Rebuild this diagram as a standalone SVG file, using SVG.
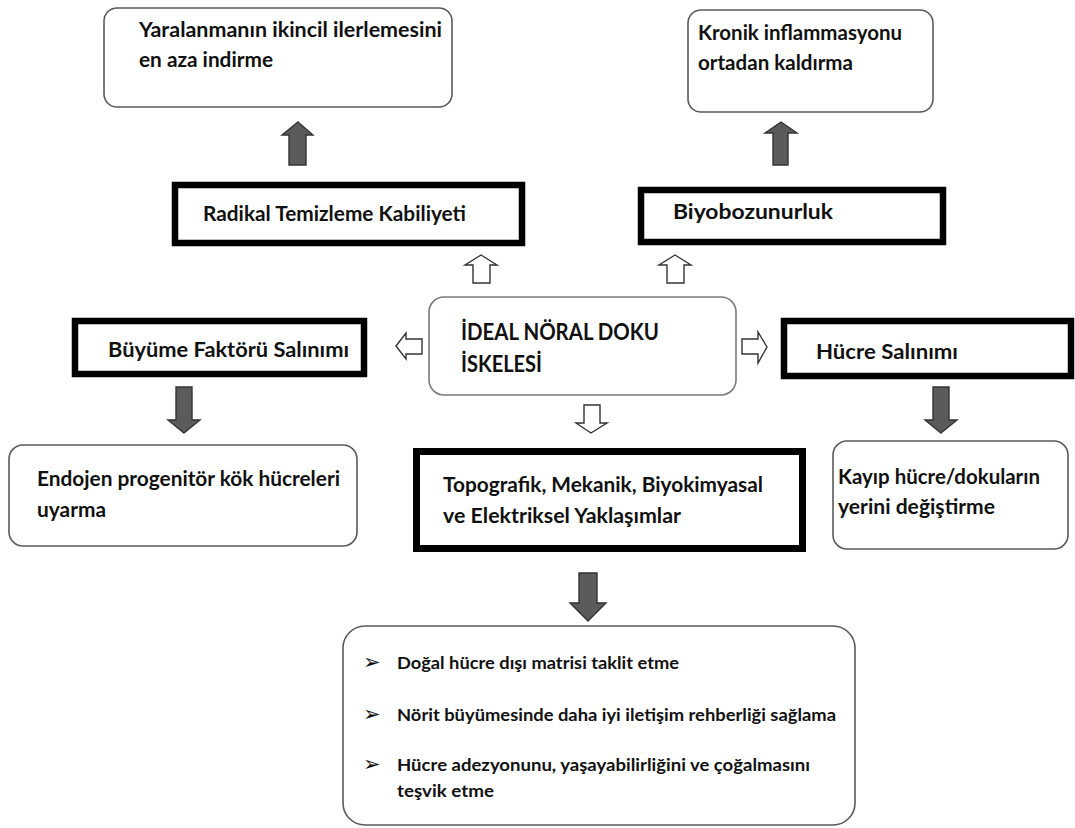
<svg xmlns="http://www.w3.org/2000/svg" width="1075" height="828" viewBox="0 0 1075 828">
<defs>
<style>
.rbox{fill:#fff;stroke:#5a5a5a;stroke-width:1.6}
.tbox{fill:#fff;stroke:#000;stroke-width:6.5}
.t{font-family:Lato,"Open Sans","Liberation Sans",sans-serif;font-weight:700;font-size:20px;fill:#111}
.tc{font-family:Lato,"Open Sans","Liberation Sans",sans-serif;font-weight:700;font-size:22px;fill:#111}
.tb{font-family:Lato,"Open Sans","Liberation Sans",sans-serif;font-weight:700;font-size:17.5px;fill:#111}
.dark{fill:#5b5b5b;stroke:#333;stroke-width:1.4;stroke-linejoin:miter}
.hollow{fill:#fff;stroke:#333;stroke-width:1.4}
.bul{font-family:"DejaVu Sans",sans-serif;font-size:21px;fill:#111}
</style>
</defs>
<rect width="1075" height="828" fill="#fff"/>

<g id="connectors">
<polygon class="dark" points="298,122 313,135 306,135 306,165 289,165 289,135 282,135"/>
<polygon class="dark" points="781,122 797,133 788,133 788,165 773,165 773,133 765,133"/>
<polygon class="hollow" points="481,255 497,265 490,265 490,283 473,283 473,265 465,265"/>
<polygon class="hollow" points="675,255 691,265 684,265 684,283 667,283 667,265 659,265"/>
<polygon class="hollow" points="396,346 406,333 406,339 422,339 422,354 406,354 406,359"/>
<polygon class="hollow" points="767,347 758,332 758,339 742,339 742,354 758,354 758,363"/>
<polygon class="dark" points="184,433 200,420 192,420 192,387 176,387 176,420 168,420"/>
<polygon class="hollow" points="591,433 607,423 600,423 600,405 584,405 584,423 576,423"/>
<polygon class="dark" points="941,433 957,420 949,420 949,387 933,387 933,420 925,420"/>
<polygon class="dark" points="588,621 606,603 597,603 597,573 579,573 579,603 570,603"/>
</g>

<g id="node-yaralanma">
<rect class="rbox" x="104" y="8" width="348" height="99" rx="13"/>
<text class="t" x="139" y="37" textLength="303" lengthAdjust="spacingAndGlyphs">Yaralanmanın ikincil ilerlemesini</text>
<text class="t" x="139" y="67" textLength="134" lengthAdjust="spacingAndGlyphs">en aza indirme</text>
</g>

<g id="node-kronik">
<rect class="rbox" x="688" y="10" width="245" height="102" rx="13"/>
<text class="t" x="698" y="40" textLength="204" lengthAdjust="spacingAndGlyphs">Kronik inflammasyonu</text>
<text class="t" x="698" y="70" textLength="155" lengthAdjust="spacingAndGlyphs">ortadan kaldırma</text>
</g>

<g id="node-radikal">
<rect class="tbox" x="175" y="185" width="347" height="58"/>
<text class="t" x="203" y="221" textLength="263" lengthAdjust="spacingAndGlyphs">Radikal Temizleme Kabiliyeti</text>
</g>

<g id="node-biyobozunurluk">
<rect class="tbox" x="641" y="190" width="302" height="52"/>
<text class="t" x="673" y="219" textLength="160" lengthAdjust="spacingAndGlyphs">Biyobozunurluk</text>
</g>

<g id="node-ideal">
<rect class="rbox" x="429" y="297" width="307" height="98" rx="15" style="stroke:#7a7a7a"/>
<text class="tc" x="461" y="340" textLength="198" lengthAdjust="spacingAndGlyphs">İDEAL NÖRAL DOKU</text>
<text class="tc" x="461" y="372" textLength="81" lengthAdjust="spacingAndGlyphs">İSKELESİ</text>
</g>

<g id="node-buyume">
<rect class="tbox" x="75" y="321" width="289" height="53"/>
<text class="t" x="108" y="357" textLength="241" lengthAdjust="spacingAndGlyphs">Büyüme Faktörü Salınımı</text>
</g>

<g id="node-hucre">
<rect class="tbox" x="784" y="321" width="287" height="55"/>
<text class="t" x="816" y="359" textLength="142" lengthAdjust="spacingAndGlyphs">Hücre Salınımı</text>
</g>

<g id="node-endojen">
<rect class="rbox" x="9" y="445" width="348" height="101" rx="14"/>
<text class="t" x="37" y="486" textLength="303" lengthAdjust="spacingAndGlyphs">Endojen progenitör kök hücreleri</text>
<text class="t" x="37" y="517" textLength="69" lengthAdjust="spacingAndGlyphs">uyarma</text>
</g>

<g id="node-topografik">
<rect class="tbox" x="416.5" y="451.5" width="386" height="97" style="stroke-width:7"/>
<text class="t" x="443" y="492" textLength="320" lengthAdjust="spacingAndGlyphs">Topografik, Mekanik, Biyokimyasal</text>
<text class="t" x="443" y="523" textLength="238" lengthAdjust="spacingAndGlyphs">ve Elektriksel Yaklaşımlar</text>
</g>

<g id="node-kayip">
<rect class="rbox" x="833" y="441" width="235" height="108" rx="14"/>
<text class="t" x="838" y="484" textLength="202" lengthAdjust="spacingAndGlyphs">Kayıp hücre/dokuların</text>
<text class="t" x="838" y="514" textLength="157" lengthAdjust="spacingAndGlyphs">yerini değiştirme</text>
</g>

<g id="node-bottom">
<rect class="rbox" x="343" y="626" width="512" height="199" rx="22"/>
<text class="bul" x="363" y="669">➢</text>
<text class="tb" x="397" y="669" textLength="282" lengthAdjust="spacingAndGlyphs">Doğal hücre dışı matrisi taklit etme</text>
<text class="bul" x="363" y="721">➢</text>
<text class="tb" x="397" y="721" textLength="439" lengthAdjust="spacingAndGlyphs">Nörit büyümesinde daha iyi iletişim rehberliği sağlama</text>
<text class="bul" x="363" y="771">➢</text>
<text class="tb" x="397" y="771" textLength="413" lengthAdjust="spacingAndGlyphs">Hücre adezyonunu, yaşayabilirliğini ve çoğalmasını</text>
<text class="tb" x="397" y="797" textLength="97" lengthAdjust="spacingAndGlyphs">teşvik etme</text>
</g>
</svg>
